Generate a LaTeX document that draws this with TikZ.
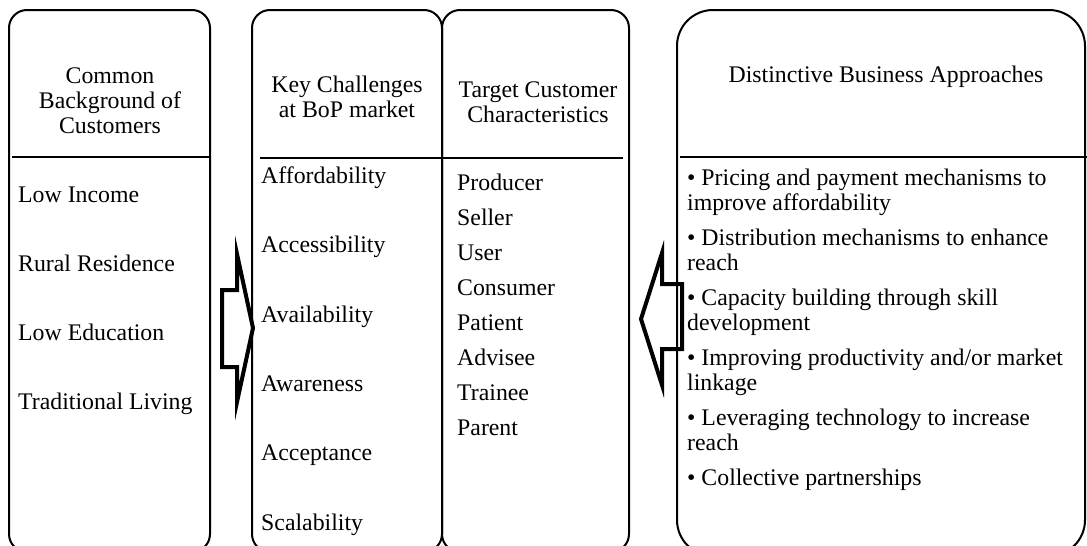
\documentclass[tikz,border=0pt]{standalone}
\usepackage{fontspec}
\setmainfont{Liberation Serif}
\usepackage{tikz}
\usetikzlibrary{
    positioning
}
\tikzset{
  panel/.style = {
      draw,
      line width=2pt,
      rounded corners=18pt
  },
  wide panel/.style = {
      panel,
      rounded corners=36pt
  },
  divider/.style = {
      line width=2pt
  },
  basic/.style = {
      inner sep=0pt,
      font=\fontsize{23.8}{25.3}\selectfont
  },
  heading/.style = {
      basic,
      align=center,
      anchor=north
  },
  entry/.style = {
      basic,
      text height=17.7pt,
      text depth=7.6pt,
      anchor=north west
  },
  approach/.style = {
      basic,
      align=left,
      anchor=north west
  },
  block arrow/.style = {
      draw,
      line width=4pt,
      line join=miter,
      miter limit=20
  }
}

\begin{document}
\begin{tikzpicture}[x=1pt, y=-1pt]
        \useasboundingbox (0,0) rectangle (1087,546);
        \clip (0,0) rectangle (1087,546);
        % Arrows
        \draw[block arrow] (222,290) -- (237,290) -- (237,254) -- (253,328)
            -- (237,402) -- (237,367) -- (222,367) -- cycle;
        \draw[block arrow] (682,284) -- (662,284) -- (662,253) -- (641,319)
            -- (662,385) -- (662,349) -- (682,349) -- cycle;
        % Panels
        \draw[panel] (9,10) rectangle (210,552);
        \draw[panel] (252,10) rectangle (442,552);
        \draw[panel] (442,10) rectangle (629,552);
        \draw[wide panel] (677,10) rectangle (1085,556);
        \draw[divider] (12,157) -- (209,157);
        \draw[divider] (260,158) -- (623,158);
        \draw[divider] (680,157) -- (1087,157);
        % Headings
        \node[heading] (bg) at (110,65.3) {\strut Common\\\strut Background of\\\strut Customers};
        \node[heading] (ch) at (347,74.3) {\strut Key Challenges\\\strut at BoP market};
        \node[heading] (tc) at (538,79.3) {\strut Target Customer\\\strut Characteristics};
        \node[heading] (ap) at (886,64.3) {\strut Distinctive Business Approaches};
        % Background
        \node[entry] (inc) at (18,184.3) {Low Income};
        \node[entry, below=43.4pt of inc.south west, anchor=north west] (rur) {Rural Residence};
        \node[entry, below=43.4pt of rur.south west, anchor=north west] (edu) {Low Education};
        \node[entry, below=43.4pt of edu.south west, anchor=north west] (liv) {Traditional Living};
        % Challenges
        \node[entry] (aff) at (261,165.3) {Affordability};
        \node[entry, below=43.7pt of aff.south west, anchor=north west] (acc) {Accessibility};
        \node[entry, below=43.7pt of acc.south west, anchor=north west] (ava) {Availability};
        \node[entry, below=43.7pt of ava.south west, anchor=north west] (awa) {Awareness};
        \node[entry, below=43.7pt of awa.south west, anchor=north west] (acp) {Acceptance};
        \node[entry, below=43.7pt of acp.south west, anchor=north west] (sca) {Scalability};
        % Customers
        \node[entry] (pro) at (457,172.3) {Producer};
        \node[entry, below=9.3pt of pro.south west, anchor=north west] (sel) {Seller};
        \node[entry, below=9.3pt of sel.south west, anchor=north west] (usr) {User};
        \node[entry, below=9.3pt of usr.south west, anchor=north west] (con) {Consumer};
        \node[entry, below=9.3pt of con.south west, anchor=north west] (pat) {Patient};
        \node[entry, below=9.3pt of pat.south west, anchor=north west] (adv) {Advisee};
        \node[entry, below=9.3pt of adv.south west, anchor=north west] (tra) {Trainee};
        \node[entry, below=9.3pt of tra.south west, anchor=north west] (par) {Parent};
        % Approaches
        \node[approach] (pri) at (687,167.3) {\strut • Pricing and payment mechanisms to\\\strut improve affordability};
        \node[approach, below=9pt of pri.south west, anchor=north west] (dis) {\strut • Distribution mechanisms to enhance\\\strut reach};
        \node[approach, below=9pt of dis.south west, anchor=north west] (cap) {\strut • Capacity building through skill\\\strut development};
        \node[approach, below=9pt of cap.south west, anchor=north west] (imp) {\strut • Improving productivity and/or market\\\strut linkage};
        \node[approach, below=9pt of imp.south west, anchor=north west] (lev) {\strut • Leveraging technology to increase\\\strut reach};
        \node[approach, below=9pt of lev.south west, anchor=north west] (col) {\strut • Collective partnerships};
    \end{tikzpicture}
\end{document}
